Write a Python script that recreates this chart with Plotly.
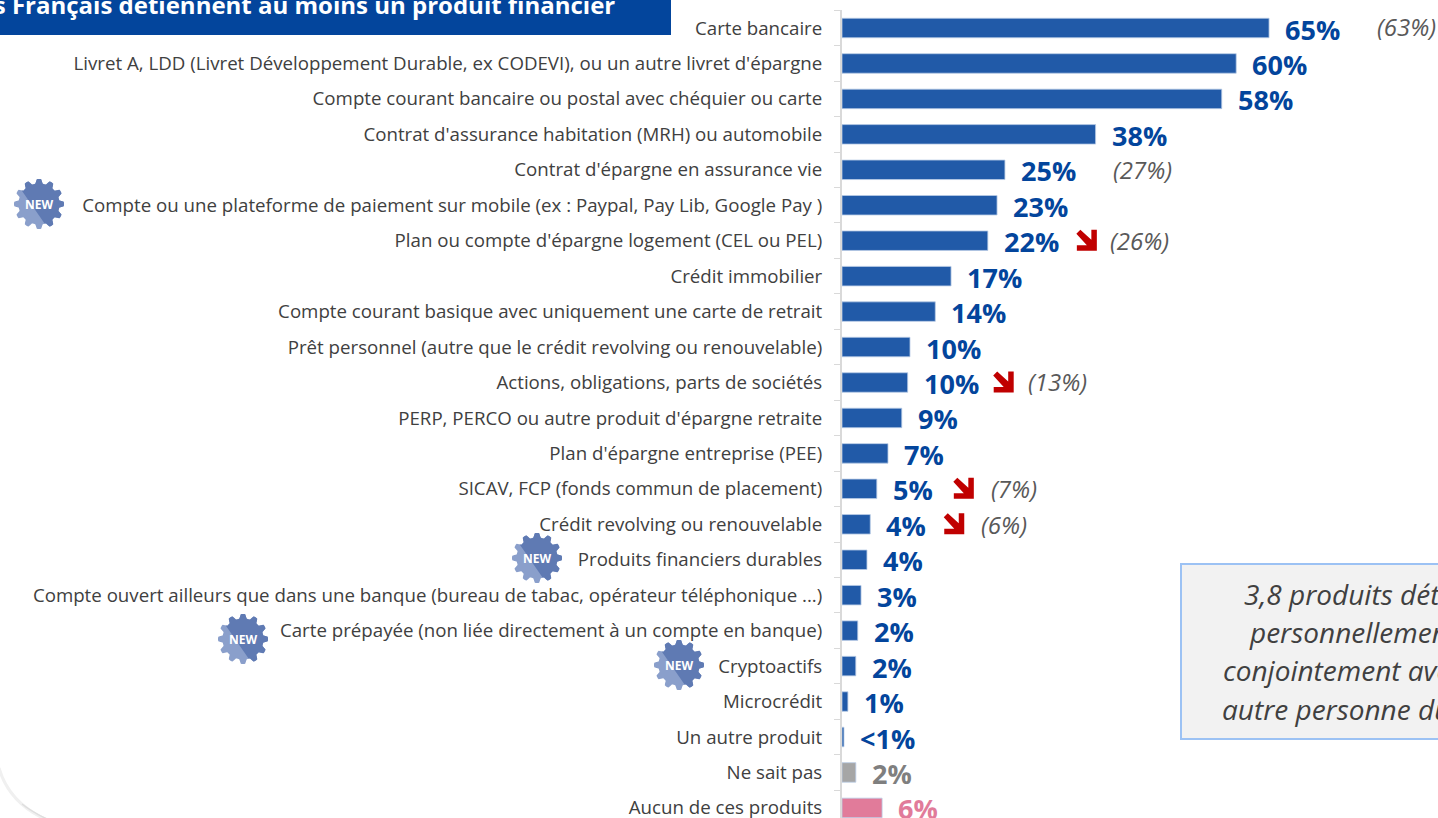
import math
import plotly.graph_objects as go

categories = ["Carte bancaire",
 "Livret A, LDD (Livret Développement Durable, ex CODEVI), ou un autre livret d'épargne",
 "Compte courant bancaire ou postal avec chéquier ou carte",
 "Contrat d'assurance habitation (MRH) ou automobile",
 "Contrat d'épargne en assurance vie",
 "Compte ou une plateforme de paiement sur mobile (ex : Paypal, Pay Lib, Google Pay )",
 "Plan ou compte d'épargne logement (CEL ou PEL)",
 "Crédit immobilier",
 "Compte courant basique avec uniquement une carte de retrait",
 "Prêt personnel (autre que le crédit revolving ou renouvelable)",
 "Actions, obligations, parts de sociétés",
 "PERP, PERCO ou autre produit d'épargne retraite",
 "Plan d'épargne entreprise (PEE)",
 "SICAV, FCP (fonds commun de placement)",
 "Crédit revolving ou renouvelable",
 "Produits financiers durables",
 "Compte ouvert ailleurs que dans une banque (bureau de tabac, opérateur téléphonique ...)",
 "Carte prépayée (non liée directement à un compte en banque)",
 "Cryptoactifs", "Microcrédit", "Un autre produit", "Ne sait pas", "Aucun de ces produits"]
values = [65, 60, 57.8, 38.6, 24.8, 23.6, 22.2, 16.6, 14.2, 10.35, 10, 9.1, 7, 5.3, 4.3, 3.8, 2.9, 2.4, 2.1, 0.9, 0.3, 2.1, 6.1]
labels = ["65%", "60%", "58%", "38%", "25%", "23%", "22%", "17%", "14%", "10%", "10%", "9%", "7%", "5%", "4%", "4%", "3%", "2%", "2%", "1%", "<1%", "2%", "6%"]
priors = {0: "(63%)", 4: "(27%)", 6: "(26%)", 10: "(13%)", 13: "(7%)", 14: "(6%)"}
down_rows = [6, 10, 13, 14]
box_lines = ["3,8 produits détenus", "personnellement ou", "conjointement avec une", "autre personne du foyer"]

W, H = 1438, 818
FONT = "Open Sans"
BLUE, GREY, PINK = "#215aa8", "#a6a6a6", "#e17b9a"
TBLUE, TGREY, TPINK = "#03459c", "#7f7f7f", "#e17b9a"
bar_colors = [BLUE] * 21 + [GREY, PINK]
text_colors = [TBLUE] * 21 + [TGREY, TPINK]
X0, PX = 842.0, 6.57
Y0, ROW = 28.0, 35.45
prior_offset = {0: 106, 4: 106, 6: 120, 10: 118, 13: 112, 14: 109}
prior_yshift = {0: 2, 4: 0, 6: 0, 10: 1, 13: 0, 14: 0}
arrow_offset = {6: 88.5, 10: 85.5, 13: 76.5, 14: 73.5}

fig = go.Figure(go.Bar(y=categories, x=values, orientation="h", width=0.55,
                       marker=dict(color=bar_colors, line=dict(color="#b9cbe6", width=0.8)),
                       hoverinfo="skip"))

def px(x): return x / W
def py(y): return 1 - y / H

ann, shp = [], []
for i, (v, lab, c) in enumerate(zip(values, labels, text_colors)):
    ann.append(dict(x=v, y=i, xref="x", yref="y", text=f"<b>{lab}</b>", showarrow=False, xanchor="left",
                    xshift=14, yshift=-1, font=dict(family=FONT, size=27, color=c)))
for i, t in priors.items():
    ann.append(dict(x=values[i], y=i, xref="x", yref="y", text=f"<i>{t}</i>", showarrow=False, xanchor="left",
                    xshift=prior_offset[i], yshift=prior_yshift[i], font=dict(family=FONT, size=24, color="#595959")))

arrow = [(4, 0), (15, 10), (15, 0), (20.5, 0), (20.5, 21), (0.5, 21), (0.5, 15.5), (10.5, 15.5), (0, 4)]
for i in down_rows:
    dx = arrow_offset[i]
    path = "M" + " L".join(f"{a + dx},{11 - b}" for a, b in arrow) + " Z"
    shp.append(dict(type="path", xref="x", yref="y", xsizemode="pixel", ysizemode="pixel",
                    xanchor=values[i], yanchor=i, path=path, fillcolor="#c00000", line=dict(width=0)))

# title banner
shp.append(dict(type="rect", xref="paper", yref="paper", x0=px(-5), x1=px(671), y0=py(35), y1=py(-5),
                fillcolor="#03459c", line=dict(width=0), layer="below"))
ann.append(dict(xref="paper", yref="paper", x=px(617), y=py(4), xanchor="right", yanchor="middle",
                text="<b>Les Français détiennent au moins un produit financier</b>", showarrow=False,
                font=dict(family=FONT, size=24, color="white")))

# call-out box
shp.append(dict(type="rect", xref="paper", yref="paper", x0=px(1181), x1=px(1560), y0=py(739), y1=py(564),
                fillcolor="#f2f2f2", line=dict(color="#9cc2f4", width=2)))
for t, y, lx in zip(box_lines, [594, 632, 670, 709], [1242, 1247, 1221, 1220]):
    ann.append(dict(xref="paper", yref="paper", x=px(lx), y=py(y), xanchor="left", yanchor="middle",
                    text=f"<i>{t}</i>", showarrow=False, font=dict(family=FONT, size=28, color="#404040")))

# NEW badges
def gear(cx, cy, r=25.0, teeth=12):
    pts = []
    n = teeth * 12
    for k in range(n):
        a = 2 * math.pi * k / n
        c = max(-1.0, min(1.0, 1.8 * math.cos(teeth * a)))
        rr = r * (0.91 + 0.09 * c)
        pts.append((cx + rr * math.cos(a), cy + rr * math.sin(a)))
    return pts

def clip(pts, cx, cy):
    f = lambda p: (p[0] - cx) * 0.82 - (p[1] - cy) * 0.57 + 6.5
    out = []
    for a, b in zip(pts, pts[1:] + pts[:1]):
        fa, fb = f(a), f(b)
        if fa >= 0:
            out.append(a)
        if fa * fb < 0:
            t = fa / (fa - fb)
            out.append((a[0] + t * (b[0] - a[0]), a[1] + t * (b[1] - a[1])))
    return out

def to_path(pts):
    return "M" + " L".join(f"{px(x):.5f},{py(y):.5f}" for x, y in pts) + " Z"

for cx, cy in [(39, 204), (537, 558), (243, 639), (679, 665)]:
    g = gear(cx, cy)
    shp.append(dict(type="path", xref="paper", yref="paper", path=to_path(g), fillcolor="#8a9fcb", line=dict(width=0)))
    shp.append(dict(type="path", xref="paper", yref="paper", path=to_path(clip(g, cx, cy)), fillcolor="#5f7ab3", line=dict(width=0)))
    ann.append(dict(xref="paper", yref="paper", x=px(cx), y=py(cy), xanchor="center", yanchor="middle",
                    text="<b>NEW</b>", showarrow=False, font=dict(family=FONT, size=12, color="white")))

# soft corner of the slide panel
shp.append(dict(type="path", xref="paper", yref="paper", line=dict(color="#f0f0f0", width=3),
                path=f"M{px(-1)},{py(768)} Q{px(9)},{py(803)} {px(47)},{py(820)}"))
shp.append(dict(type="path", xref="paper", yref="paper", line=dict(color="#dedede", width=1.5),
                path=f"M{px(22)},{py(804)} Q{px(32)},{py(812)} {px(47)},{py(819)}"))

fig.update_layout(
    width=W, height=H, margin=dict(l=0, r=0, t=0, b=0), paper_bgcolor="white", plot_bgcolor="white",
    showlegend=False, annotations=ann, shapes=shp,
    xaxis=dict(domain=[X0 / W, 1], range=[0, (W - X0) / PX], visible=False, fixedrange=True),
    yaxis=dict(domain=[0, 1 - (Y0 - ROW / 2) / H], range=[(H - Y0) / ROW, -0.5], type="category",
               categoryorder="array", categoryarray=categories, tickmode="array", tickvals=categories,
               tickson="boundaries", ticks="outside", ticklen=6, tickcolor="#d9d9d9",
               showline=True, linecolor="#d9d9d9", linewidth=2, showgrid=False, ticklabelstandoff=14,
               tickfont=dict(family=FONT, size=18.7, color="#404040"), fixedrange=True, automargin=False),
)
fig.write_html("out.html", config=dict(displayModeBar=False),
               post_script="document.body.style.margin='0';document.body.style.overflow='hidden';")
